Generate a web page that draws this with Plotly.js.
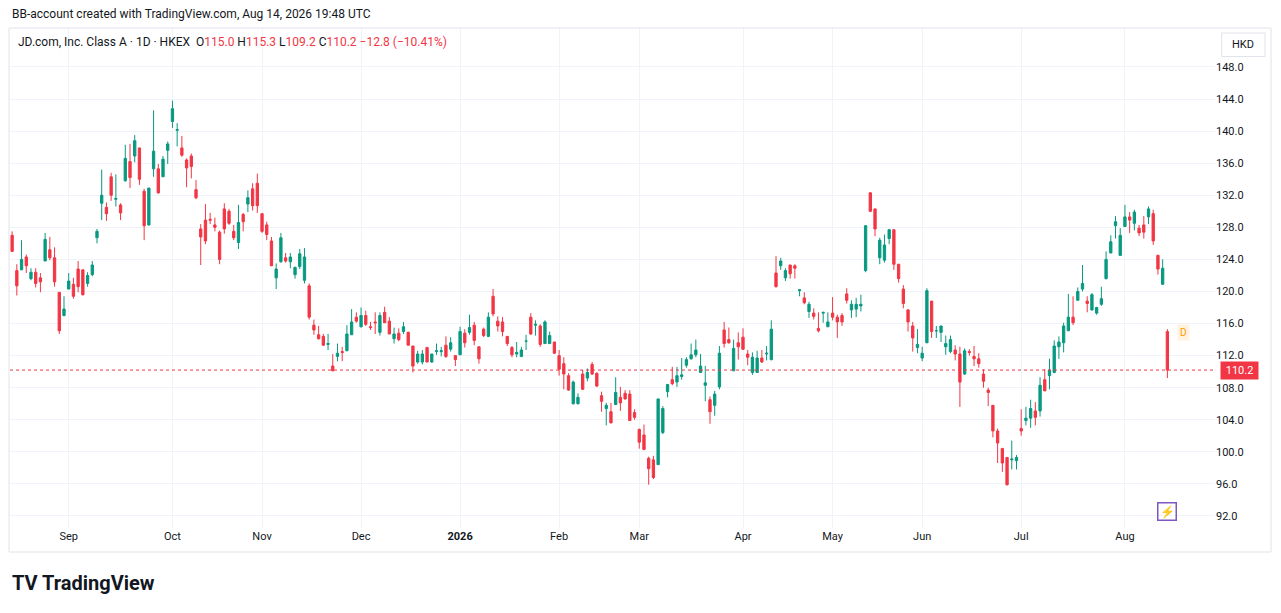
<!DOCTYPE html>
<html><head><meta charset="utf-8">
<script src="https://cdn.plot.ly/plotly-3.0.1.min.js"></script>
<style>body{margin:0;background:#fff}#c{width:1281px;height:613px}</style>
</head><body><div id="c"></div>
<script>
const open_=[127.0,122.6,122.7,124.3,121.6,122.4,121.7,123.8,125.2,124.2,119.9,117.0,120.3,120.9,122.8,122.7,121.0,122.1,126.7,131.0,130.5,134.3,131.5,130.8,133.8,136.2,136.9,137.9,132.5,128.3,135.3,135.3,134.3,137.6,141.2,140.1,137.9,136.4,136.9,132.7,127.8,
128.9,129.0,128.3,127.4,130.3,130.0,127.5,126.1,129.6,130.9,132.8,133.5,129.7,128.3,126.3,121.7,123.7,124.2,123.7,122.1,123.1,121.4,120.7,115.8,114.6,114.4,113.4,110.7,111.9,112.5,112.6,114.6,116.8,115.6,117.0,115.6,116.2,114.9,117.4,116.3,114.1,114.8,
115.0,114.9,113.2,111.2,111.2,113.0,111.2,112.5,112.5,113.3,112.8,112.0,112.1,114.8,114.9,115.8,113.1,115.3,114.4,119.4,116.3,116.2,114.4,113.0,112.2,111.9,113.8,116.8,115.8,115.7,113.5,113.5,113.7,112.0,111.0,109.5,106.0,106.0,109.7,109.2,
110.9,109.8,107.0,105.4,105.0,105.9,106.8,107.3,107.2,104.9,102.8,102.1,99.2,99.0,98.4,102.4,107.5,109.0,108.7,109.4,110.8,111.6,112.1,109.9,108.3,106.5,105.8,108.1,115.2,114.0,110.1,113.6,114.3,112.2,109.9,109.9,111.7,112.2,111.5,122.3,
123.2,121.7,123.3,123.2,120.1,119.2,117.5,117.3,115.4,117.3,115.6,117.3,116.8,117.0,119.7,117.7,117.8,118.2,122.6,132.3,130.3,124.2,123.9,126.6,127.7,123.4,120.3,117.7,115.7,113.0,111.7,113.6,118.8,115.1,114.9,113.1,112.5,112.7,112.2,109.7,112.5,
111.9,111.6,109.7,107.7,105.8,102.6,100.4,99.3,99.0,98.9,102.9,103.9,104.2,105.1,105.1,109.0,109.5,109.9,113.1,113.6,115.1,116.8,118.9,120.3,118.8,117.7,117.3,118.4,121.6,124.8,128.2,124.5,128.1,129.3,128.5,127.9,128.3,129.3,129.7,124.5,120.9,115.0];
const high=[127.5,123.4,126.4,124.6,122.9,122.9,122.3,127.3,126.8,125.5,119.9,119.4,122.3,121.7,123.8,122.7,122.4,123.8,127.8,135.2,131.1,134.8,134.6,131.0,138.3,138.4,139.5,137.9,132.8,132.9,142.6,135.9,136.9,138.7,143.8,141.0,139.4,136.6,137.2,133.9,128.4,
130.9,129.8,129.2,127.6,131.0,130.3,128.3,130.8,129.8,132.6,133.5,134.7,129.7,128.7,126.8,123.5,127.3,124.8,124.8,123.1,125.3,125.4,121.0,116.5,115.7,114.7,114.7,112.2,113.5,113.1,115.8,117.8,117.4,118.0,117.6,116.2,117.4,117.4,118.1,116.8,115.5,115.4,
116.2,115.0,113.2,112.6,112.7,113.1,112.2,113.5,113.1,114.4,114.3,112.0,115.6,115.3,117.1,116.2,113.1,115.5,117.4,120.3,116.9,116.8,114.4,113.2,113.7,113.1,114.6,117.3,116.4,115.9,116.4,115.0,113.7,112.7,111.8,109.8,108.9,107.3,110.2,110.4,
111.2,109.9,107.5,106.1,106.1,109.3,108.1,107.7,107.7,105.3,102.9,103.4,99.4,99.5,106.6,105.7,108.4,110.6,110.6,111.7,111.8,113.5,114.0,112.2,110.7,106.9,107.6,113.2,116.2,115.5,114.0,114.9,115.4,112.7,112.4,112.6,112.7,113.2,116.4,124.4,
124.2,122.9,123.3,123.4,120.3,119.9,118.7,117.9,117.4,117.4,117.4,119.3,117.1,117.3,120.4,118.9,119.2,119.6,128.3,132.4,130.3,126.7,127.1,127.8,127.7,123.4,120.8,117.8,116.2,115.3,113.1,120.4,118.8,115.7,115.7,114.5,114.5,113.3,113.1,112.9,112.8,
113.2,112.3,110.3,108.0,105.8,102.9,100.5,99.3,101.4,99.6,105.3,105.6,106.5,106.2,109.3,110.3,111.6,113.9,114.4,116.1,119.7,119.4,120.5,123.3,119.4,119.8,118.1,120.6,125.0,127.0,129.4,127.9,130.8,129.9,130.2,128.3,129.4,130.6,130.2,124.6,124.0,115.3];
const low=[125.0,119.5,122.7,122.3,121.4,120.5,119.9,123.8,123.9,120.6,114.7,116.9,120.3,119.1,119.9,119.5,120.6,121.9,126.0,128.9,128.8,131.3,130.6,128.9,133.7,132.9,136.1,133.3,126.4,128.2,134.3,132.2,134.3,135.9,140.4,138.1,136.8,133.0,134.1,131.5,123.3,
125.9,128.4,127.5,123.4,127.2,128.3,126.4,125.3,127.5,129.9,130.1,129.8,127.3,126.4,123.2,120.3,123.6,123.6,122.9,121.6,122.8,121.0,116.5,114.6,114.0,113.2,112.7,110.1,111.3,111.3,112.6,114.6,116.1,115.5,115.7,115.2,114.7,114.5,116.1,114.7,113.5,113.8,
114.7,113.3,109.9,111.0,110.9,111.2,111.1,112.1,111.9,111.7,112.5,110.7,112.1,113.0,114.6,113.3,111.0,114.3,114.3,116.9,115.0,114.4,113.2,111.8,111.8,111.8,112.7,114.6,114.5,113.1,113.5,113.5,112.2,109.5,107.8,107.6,105.9,105.9,107.7,108.8,
109.6,108.1,105.0,103.3,103.6,105.9,105.1,106.5,103.9,104.0,100.4,100.2,95.9,96.6,98.4,102.2,106.8,108.3,108.1,109.0,110.5,111.5,111.8,109.9,106.3,103.5,104.5,107.8,113.0,113.5,110.1,111.5,112.7,110.8,109.6,109.9,111.1,111.4,111.4,120.5,
122.7,121.3,121.6,121.6,119.4,118.4,116.7,116.5,114.9,116.1,115.6,116.4,114.2,115.7,118.5,116.7,116.8,117.5,122.4,129.9,126.9,123.4,123.6,125.9,122.7,121.1,117.9,115.0,112.5,112.3,111.3,113.6,114.2,114.2,113.7,112.1,112.3,111.4,105.6,109.6,112.0,
110.7,110.5,108.0,105.7,101.8,98.6,97.5,95.8,97.8,97.8,102.0,103.3,103.0,103.3,104.4,107.6,107.8,109.8,111.6,112.4,115.1,115.8,118.9,120.0,117.4,117.6,117.1,118.2,121.5,124.8,126.6,124.5,128.1,127.3,127.6,126.9,126.6,128.4,125.8,122.1,120.8,109.2];
const close=[125.0,120.7,124.0,123.2,122.4,121.0,121.2,126.5,124.2,121.2,115.1,117.8,121.3,119.4,120.6,119.6,122.0,123.3,127.5,132.0,129.7,132.0,131.6,129.8,136.6,134.2,138.8,134.0,128.2,132.9,137.5,132.3,136.5,138.4,142.8,140.2,137.0,135.4,135.6,131.7,126.8,
126.3,128.9,128.0,124.0,127.8,128.5,126.7,128.6,128.7,131.7,130.7,130.7,127.5,127.1,123.2,122.8,126.7,123.8,124.3,123.0,124.7,124.3,116.8,115.2,114.1,113.3,113.5,110.1,112.3,112.4,114.7,116.2,116.3,117.0,115.9,115.5,116.1,117.0,116.1,114.7,114.7,114.0,
115.6,113.3,110.7,112.2,112.2,111.2,112.2,112.6,112.6,111.9,113.6,111.5,115.0,113.6,115.5,113.9,111.6,114.5,116.8,117.2,115.7,115.0,113.5,112.1,112.4,112.7,113.8,114.7,115.9,113.4,116.2,114.5,112.3,110.3,109.7,107.7,108.7,106.8,107.8,109.9,
109.7,108.2,106.3,105.8,103.6,107.4,106.1,106.6,103.9,104.3,101.2,100.3,97.9,96.8,106.6,105.4,108.4,108.5,109.5,109.6,111.5,112.1,112.7,110.7,108.6,105.0,107.2,112.3,113.5,113.6,112.9,113.1,112.8,111.8,111.8,111.7,111.2,112.3,115.3,120.6,
123.8,122.6,122.2,122.9,120.2,118.6,118.4,116.9,115.1,117.4,116.2,116.8,116.2,116.2,118.9,118.4,118.4,118.4,128.2,130.0,127.8,126.4,125.8,127.7,123.4,121.6,118.5,116.2,114.2,113.4,112.3,120.1,115.0,115.1,115.7,113.5,114.0,112.2,108.7,112.6,112.4,
111.6,111.0,108.8,107.4,102.6,101.1,98.6,95.9,99.1,99.3,102.6,104.2,105.4,104.3,108.3,107.6,110.2,113.2,113.7,115.7,116.8,116.1,120.0,121.0,118.5,119.6,118.0,119.1,124.0,126.2,128.7,127.0,129.3,128.9,129.9,127.3,127.4,130.3,126.3,122.8,122.9,110.2];
const tickIdx=[12,34,53,74,95,116,133,155,174,193,214,236];
const tickText=['Sep','Oct','Nov','Dec','<b>2026</b>','Feb','Mar','Apr','May','Jun','Jul','Aug'];
const yTicks=[92,96,100,104,108,112,116,120,124,128,132,136,140,144,148];
const lastClose=110.2;

const idx=close.map((_,i)=>i);
const UP='#089981',DN='#f23645';
const trace={type:'candlestick',x:idx,open:open_,high:high,low:low,close:close,
 increasing:{line:{color:UP,width:1},fillcolor:UP},decreasing:{line:{color:DN,width:1},fillcolor:DN},
 whiskerwidth:0,hoverinfo:'skip'};
const layout={width:1281,height:613,margin:{l:10,r:66,t:28,b:85},paper_bgcolor:'#fff',plot_bgcolor:'#fff',
 showlegend:false,font:{family:'Roboto, sans-serif',size:12,color:'#131722'},
 xaxis:{range:[-0.45,255.1],tickvals:tickIdx,ticktext:tickText,showgrid:true,gridcolor:'#f0f3fa',zeroline:false,
   rangeslider:{visible:false},ticks:'',tickfont:{size:11,color:'#131722'},fixedrange:true,showline:false},
 yaxis:{side:'right',range:[90.5,152.86],tickvals:yTicks,ticktext:yTicks.map(v=>v.toFixed(1)),gridcolor:'#f0f3fa',
   zeroline:false,tickfont:{size:11,color:'#131722'},ticks:'',showline:false},
 shapes:[
  {type:'line',xref:'paper',x0:0,x1:1,yref:'y',y0:lastClose,y1:lastClose,line:{color:DN,width:1,dash:'dot'}},
  {type:'rect',xref:'paper',yref:'paper',x0:-0.0008,x1:1.0465,y0:-0.048,y1:1,line:{color:'#e0e3eb',width:1},fillcolor:'rgba(0,0,0,0)'},
  {type:'rect',xref:'paper',yref:'paper',x0:1.0055,x1:1.0415,y0:0.943,y1:0.99,line:{color:'#e0e3eb',width:1},fillcolor:'#fff'}
 ],
 annotations:[
  {xref:'paper',yref:'paper',x:1.0235,y:0.9665,xanchor:'center',yanchor:'middle',text:'HKD',showarrow:false,font:{size:11,color:'#131722'}},
  {xref:'paper',yref:'y',x:1.004,y:lastClose,xanchor:'left',text:' 110.2 ',showarrow:false,bgcolor:DN,font:{size:11,color:'#fff'},borderpad:2},
  {xref:'paper',yref:'paper',x:0.0,y:1.028,xanchor:'left',yanchor:'middle',showarrow:false,
   text:'BB-account created with TradingView.com, Aug 14, 2026 19:48 UTC',font:{size:12,color:'#131722'}},
  {xref:'paper',yref:'paper',x:0.005,y:0.972,xanchor:'left',yanchor:'middle',showarrow:false,
   text:'JD.com, Inc. Class A · 1D · HKEX  O<span style="color:#f23645">115.0</span> H<span style="color:#f23645">115.3</span> L<span style="color:#f23645">109.2</span> C<span style="color:#f23645">110.2</span> <span style="color:#f23645">−12.8 (−10.41%)</span>',
   font:{size:12,color:'#131722'}},
  {xref:'paper',yref:'paper',x:0.0,y:-0.11,xanchor:'left',yanchor:'middle',showarrow:false,
   text:'<b>TV TradingView</b>',font:{size:20,color:'#131722'}},
  {xref:'x',yref:'y',x:248.5,y:114.9,text:'D',showarrow:false,font:{size:10,color:'#ff9800'},bgcolor:'#fff3e0',borderpad:2},
  {xref:'x',yref:'y',x:245,y:92.5,text:'⚡',showarrow:false,font:{size:12,color:'#7e57c2'},bordercolor:'#7e57c2',borderwidth:1.5,borderpad:1}
 ]};
Plotly.newPlot('c',[trace],layout,{displayModeBar:false,staticPlot:true});
</script></body></html>
